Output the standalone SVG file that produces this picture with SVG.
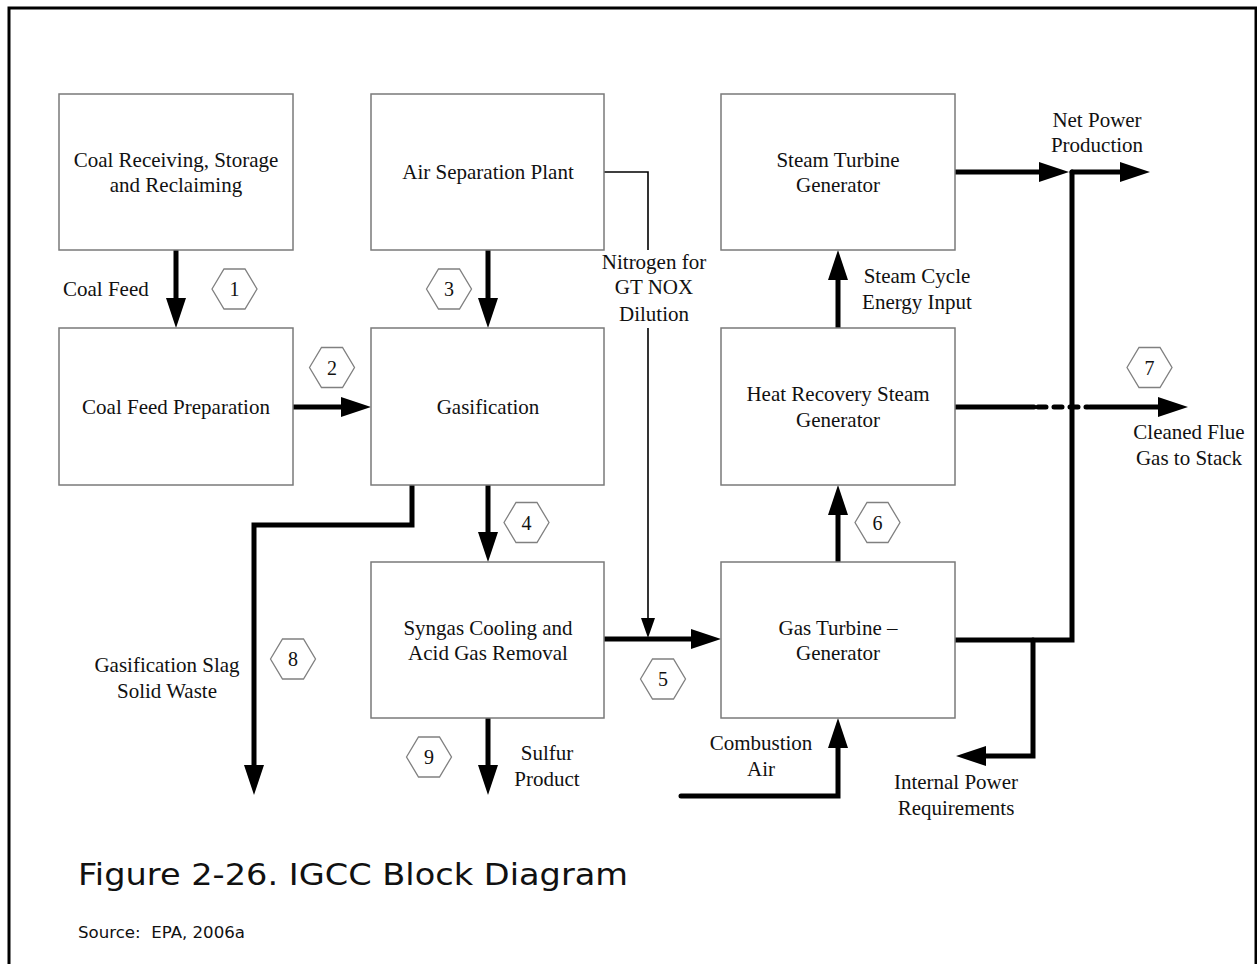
<svg xmlns="http://www.w3.org/2000/svg" width="1257" height="964" viewBox="0 0 1257 964">
<style>
.box{fill:#fff;stroke:#7a7a7a;stroke-width:1.5}
.hex{fill:#fff;stroke:#808080;stroke-width:1.3}
.t{font-family:"Liberation Serif","Times New Roman",serif;font-size:21px;fill:#111;text-anchor:middle}
.tl{font-family:"Liberation Serif","Times New Roman",serif;font-size:21px;fill:#111}
.n{font-family:"Liberation Serif","Times New Roman",serif;font-size:20px;fill:#111;text-anchor:middle}
.c{fill:none;stroke:#000;stroke-width:5;stroke-linejoin:miter;stroke-linecap:round}
.thin{fill:none;stroke:#000;stroke-width:1.6}
.cap{font-family:"DejaVu Sans",Verdana,sans-serif;fill:#111}
</style>
<defs>
<marker id="ah" viewBox="0 0 30 20" refX="5" refY="10" markerWidth="30" markerHeight="20" markerUnits="userSpaceOnUse" orient="auto"><path d="M0,0 L30,10 L0,20 z" fill="#000"/></marker>
<marker id="ahs" viewBox="0 0 20 14" refX="3" refY="7" markerWidth="20" markerHeight="14" markerUnits="userSpaceOnUse" orient="auto"><path d="M0,0 L20,7 L0,14 z" fill="#000"/></marker>
<polygon id="hx" points="-22.5,0 -10.5,-20 10.5,-20 22.5,0 10.5,20 -10.5,20"/>
</defs>
<rect x="0" y="0" width="1257" height="964" fill="#fff"/>
<rect x="9" y="8" width="1247" height="980" fill="none" stroke="#000" stroke-width="3"/>

<g id="connectors">
<path class="c" d="M176,250 V303" marker-end="url(#ah)"/>
<path class="c" d="M293,407 H346" marker-end="url(#ah)"/>
<path class="c" d="M488,250 V303" marker-end="url(#ah)"/>
<path class="c" d="M488,485 V537" marker-end="url(#ah)"/>
<path class="c" d="M412,485 V525 H254 V770" marker-end="url(#ah)"/>
<path class="c" d="M488,718 V770" marker-end="url(#ah)"/>
<path class="thin" d="M604,172 H648 V250"/>
<path class="thin" d="M648,328 V621" marker-end="url(#ahs)"/>
<path class="c" d="M604,639 H696" marker-end="url(#ah)"/>
<path class="c" d="M838,562 V510" marker-end="url(#ah)"/>
<path class="c" d="M838,328 V275" marker-end="url(#ah)"/>
<path class="c" d="M955,172 H1044" marker-end="url(#ah)"/>
<path class="c" d="M1072,172 H1125" marker-end="url(#ah)"/>
<path class="c" d="M955,640 H1072 V172" stroke-linecap="butt"/>
<path class="c" d="M1033,640 V756 H981" marker-end="url(#ah)"/>
<path class="c" d="M681,796 H838 V743" marker-end="url(#ah)"/>
<path class="c" d="M955,407 H1034"/>
<path class="c" d="M1038,407 H1088" stroke-dasharray="8 8" stroke-linecap="butt"/>
<path class="c" d="M1090,407 H1163" marker-end="url(#ah)"/>
</g>

<g id="coal-receiving"><rect class="box" x="59" y="94" width="234" height="156"/><text class="t" x="176" y="167">Coal Receiving, Storage</text><text class="t" x="176" y="192">and Reclaiming</text></g>
<g id="air-separation"><rect class="box" x="371" y="94" width="233" height="156"/><text class="t" x="488" y="179">Air Separation Plant</text></g>
<g id="steam-turbine"><rect class="box" x="721" y="94" width="234" height="156"/><text class="t" x="838" y="167">Steam Turbine</text><text class="t" x="838" y="192">Generator</text></g>
<g id="coal-feed-prep"><rect class="box" x="59" y="328" width="234" height="157"/><text class="t" x="176" y="414">Coal Feed Preparation</text></g>
<g id="gasification"><rect class="box" x="371" y="328" width="233" height="157"/><text class="t" x="488" y="414">Gasification</text></g>
<g id="hrsg"><rect class="box" x="721" y="328" width="234" height="157"/><text class="t" x="838" y="401">Heat Recovery Steam</text><text class="t" x="838" y="427">Generator</text></g>
<g id="syngas"><rect class="box" x="371" y="562" width="233" height="156"/><text class="t" x="488" y="635">Syngas Cooling and</text><text class="t" x="488" y="660">Acid Gas Removal</text></g>
<g id="gas-turbine"><rect class="box" x="721" y="562" width="234" height="156"/><text class="t" x="838" y="635">Gas Turbine –</text><text class="t" x="838" y="660">Generator</text></g>

<g id="hex1"><use href="#hx" class="hex" x="234.5" y="289"/><text class="n" x="234.5" y="296">1</text></g>
<g id="hex2"><use href="#hx" class="hex" x="332" y="367.5"/><text class="n" x="332" y="374.5">2</text></g>
<g id="hex3"><use href="#hx" class="hex" x="449" y="289"/><text class="n" x="449" y="296">3</text></g>
<g id="hex4"><use href="#hx" class="hex" x="526.5" y="522.5"/><text class="n" x="526.5" y="529.5">4</text></g>
<g id="hex5"><use href="#hx" class="hex" x="663" y="679"/><text class="n" x="663" y="686">5</text></g>
<g id="hex6"><use href="#hx" class="hex" x="877.5" y="522.5"/><text class="n" x="877.5" y="529.5">6</text></g>
<g id="hex7"><use href="#hx" class="hex" x="1149.5" y="367.5"/><text class="n" x="1149.5" y="374.5">7</text></g>
<g id="hex8"><use href="#hx" class="hex" x="293" y="659"/><text class="n" x="293" y="666">8</text></g>
<g id="hex9"><use href="#hx" class="hex" x="429" y="757"/><text class="n" x="429" y="764">9</text></g>

<g id="labels">
<text class="tl" x="63" y="296">Coal Feed</text>
<text class="t" x="654" y="269">Nitrogen for</text>
<text class="t" x="654" y="294">GT NOX</text>
<text class="t" x="654" y="321">Dilution</text>
<text class="t" x="917" y="283">Steam Cycle</text>
<text class="t" x="917" y="309">Energy Input</text>
<text class="t" x="1097" y="127">Net Power</text>
<text class="t" x="1097" y="152">Production</text>
<text class="t" x="1189" y="439">Cleaned Flue</text>
<text class="t" x="1189" y="465">Gas to Stack</text>
<text class="t" x="167" y="672">Gasification Slag</text>
<text class="t" x="167" y="698">Solid Waste</text>
<text class="t" x="547" y="760">Sulfur</text>
<text class="t" x="547" y="786">Product</text>
<text class="t" x="761" y="750">Combustion</text>
<text class="t" x="761" y="776">Air</text>
<text class="t" x="956" y="789">Internal Power</text>
<text class="t" x="956" y="815">Requirements</text>
</g>

<g id="caption">
<text class="cap" x="78" y="885" font-size="31" textLength="550" lengthAdjust="spacingAndGlyphs">Figure 2-26. IGCC Block Diagram</text>
<text class="cap" x="78" y="938" font-size="15" textLength="167" lengthAdjust="spacingAndGlyphs" xml:space="preserve">Source:  EPA, 2006a</text>
</g>
</svg>
